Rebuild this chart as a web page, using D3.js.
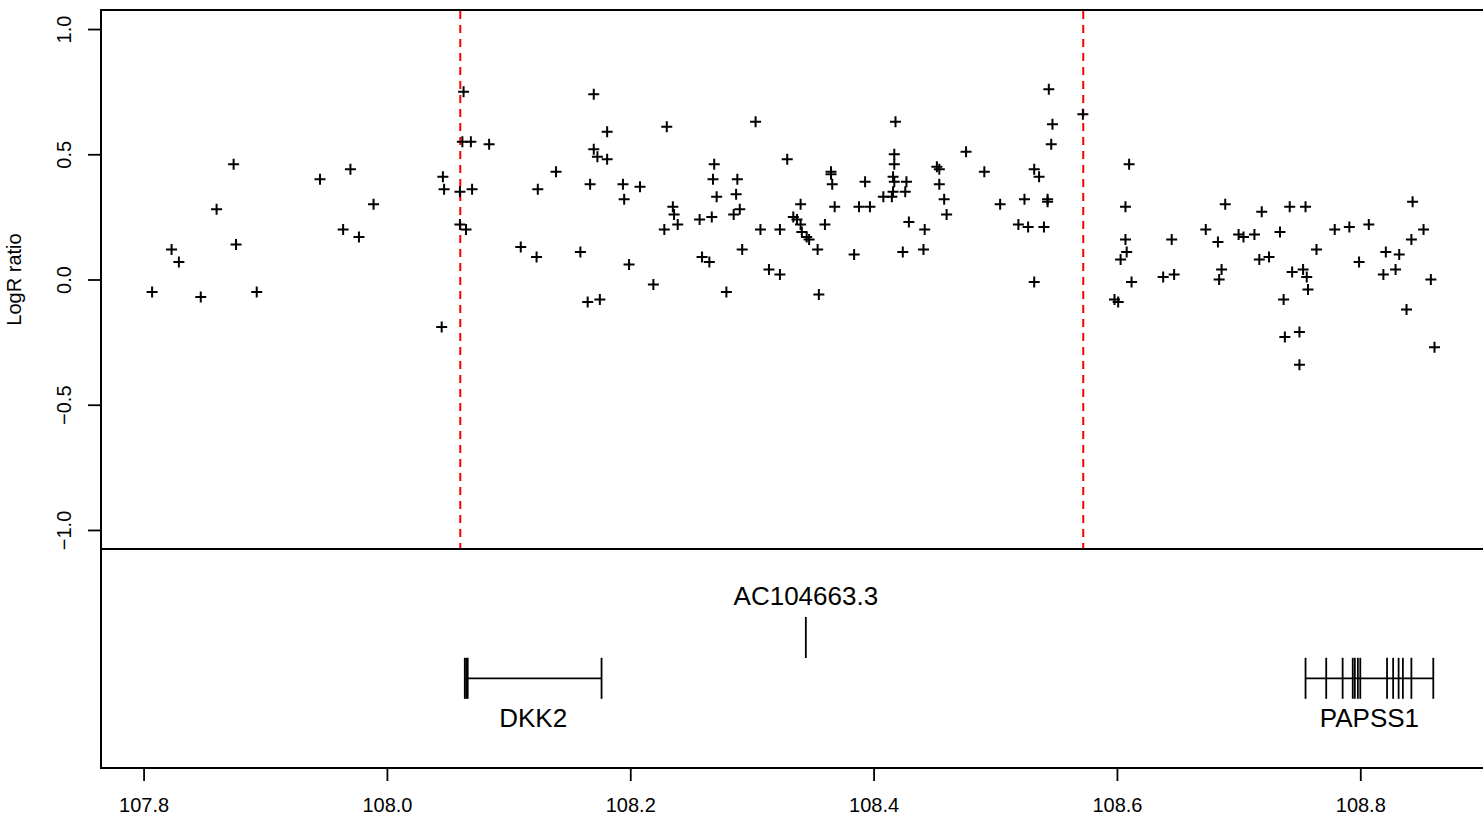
<!DOCTYPE html>
<html><head><meta charset="utf-8">
<script src="https://cdn.jsdelivr.net/npm/d3@7"></script>
<style>html,body{margin:0;padding:0;background:#fff;overflow:hidden}</style>
</head><body><svg id="c" width="1483" height="821"></svg>
<script>
// ---- data ----
const positions = [
107.807,107.823,107.829,107.847,107.860,107.874,107.876,107.893,107.945,107.964,
107.970,107.977,107.989,108.045,108.046,108.047,108.060,108.070,108.062,108.069,
108.084,108.060,108.065,108.063,
108.170,108.230,108.303,108.181,108.170,108.173,108.181,108.269,108.329,108.139,
108.124,108.167,108.194,108.208,108.268,108.288,108.195,108.271,108.287,108.235,
108.340,108.236,108.239,108.257,108.267,108.285,108.290,108.334,108.337,108.340,
108.341,108.345,108.347,108.228,108.307,108.323,108.110,108.123,108.159,108.199,
108.259,108.265,108.292,108.354,108.314,108.323,108.219,108.279,108.355,108.165,
108.175,
108.544,108.572,108.418,108.547,108.546,108.476,108.417,108.417,108.365,108.365,
108.366,108.491,108.452,108.454,108.532,108.536,108.393,108.416,108.417,108.427,
108.416,108.426,108.454,108.408,108.415,108.368,108.388,108.397,108.458,108.504,
108.524,108.543,108.543,108.460,108.360,108.429,108.442,108.519,108.527,108.540,
108.384,108.424,108.441,108.532,
108.610,108.607,108.607,108.608,108.603,108.612,108.598,108.601,108.645,108.638,
108.647,108.673,108.683,108.689,108.686,108.684,108.700,108.704,108.713,108.719,
108.734,108.717,108.725,108.742,108.755,108.764,108.744,108.753,108.756,108.757,
108.737,108.738,108.750,108.750,108.779,108.791,108.807,108.799,108.821,108.832,
108.819,108.829,108.843,108.852,108.842,108.858,108.838,108.861
];
const logR = [
-0.05,0.12,0.07,-0.07,0.28,0.46,0.14,-0.05,0.40,0.20,
0.44,0.17,0.30,-0.19,0.41,0.36,0.35,0.36,0.55,0.55,
0.54,0.22,0.20,0.75,
0.74,0.61,0.63,0.59,0.52,0.49,0.48,0.46,0.48,0.43,
0.36,0.38,0.38,0.37,0.40,0.40,0.32,0.33,0.34,0.29,
0.30,0.26,0.22,0.24,0.25,0.26,0.28,0.25,0.24,0.22,
0.19,0.17,0.16,0.20,0.20,0.20,0.13,0.09,0.11,0.06,
0.09,0.07,0.12,0.12,0.04,0.02,-0.02,-0.05,-0.06,-0.09,
-0.08,
0.76,0.66,0.63,0.62,0.54,0.51,0.50,0.46,0.43,0.42,
0.38,0.43,0.45,0.44,0.44,0.41,0.39,0.41,0.39,0.39,
0.35,0.35,0.38,0.33,0.33,0.29,0.29,0.29,0.32,0.30,
0.32,0.32,0.31,0.26,0.22,0.23,0.20,0.22,0.21,0.21,
0.10,0.11,0.12,-0.01,
0.46,0.29,0.16,0.11,0.08,-0.01,-0.08,-0.09,0.16,0.01,
0.02,0.20,0.15,0.30,0.04,0.00,0.18,0.17,0.18,0.27,
0.19,0.08,0.09,0.29,0.29,0.12,0.03,0.04,0.01,-0.04,
-0.08,-0.23,-0.21,-0.34,0.20,0.21,0.22,0.07,0.11,0.10,
0.02,0.04,0.31,0.20,0.16,0.00,-0.12,-0.27
];
const breakpoints = [108.0603, 108.5723];
const xTicks = [107.8, 108.0, 108.2, 108.4, 108.6, 108.8];
const yTicks = [-1.0, -0.5, 0.0, 0.5, 1.0];
const xLim = [107.765, 108.915];
const yLim = [-1.076, 1.076];
const yLabel = "LogR ratio";
const geneNames = ["DKK2", "AC104663.3", "PAPSS1"];
const geneStarts = [108.064, 108.3443, 108.755];
const geneEnds = [108.1764, 108.3443, 108.860];
const geneRows = [2, 1, 2];
const geneExons = [
  [108.064, 108.0652, 108.0664, 108.1764],
  [108.3443],
  [108.755, 108.772, 108.7855, 108.7938, 108.7955, 108.798, 108.800, 108.822, 108.827, 108.8315, 108.835, 108.842, 108.860]
];

// ---- layout ----
const FONT = "'Liberation Sans', Arial, Helvetica, sans-serif";
const pLeft = 101, pTop = 10, pMid = 549, pBottom = 768;
const pxPerUnit = 1216.7;
const svg = d3.select("#c");
const x = d3.scaleLinear().domain(xLim).range([pLeft, pLeft + (xLim[1] - xLim[0]) * pxPerUnit]);
const y = d3.scaleLinear().domain(yLim).range([pMid, pTop]);
const pRight = x(xLim[1]);

// frame
svg.append("rect").attr("x", pLeft).attr("y", pTop).attr("width", pRight - pLeft).attr("height", pBottom - pTop)
  .attr("fill", "none").attr("stroke", "#000").attr("stroke-width", 2);
svg.append("line").attr("x1", pLeft).attr("x2", pRight).attr("y1", pMid).attr("y2", pMid)
  .attr("stroke", "#000").attr("stroke-width", 2);

// breakpoints (red dashed)
svg.append("g").selectAll("line").data(breakpoints).join("line")
  .attr("x1", d => x(d)).attr("x2", d => x(d)).attr("y1", pTop + 1).attr("y2", pMid - 1)
  .attr("stroke", "#FF0000").attr("stroke-width", 2).attr("stroke-dasharray", "8,6");

// points (+)
const pts = positions.map((p, i) => [p, logR[i]]);
const h = 5.5;
svg.append("g").selectAll("path").data(pts).join("path")
  .attr("d", d => { const cx = x(d[0]), cy = y(d[1]);
    return `M${cx - h},${cy}H${cx + h}M${cx},${cy - h}V${cy + h}`; })
  .attr("stroke", "#000").attr("stroke-width", 2).attr("fill", "none");

// x axis
const gx = svg.append("g").attr("transform", `translate(0,${pBottom})`)
  .call(d3.axisBottom(x).tickValues(xTicks).tickSize(13).tickPadding(17).tickFormat(d3.format(".1f")));
gx.select(".domain").remove();
gx.selectAll(".tick line").attr("stroke", "#000").attr("stroke-width", 1.8);
gx.selectAll(".tick text").attr("font-family", FONT).attr("font-size", 20).attr("fill", "#000");

// y axis
const gy = svg.append("g").attr("transform", `translate(${pLeft},0)`)
  .call(d3.axisLeft(y).tickValues(yTicks).tickSize(13).tickFormat(d => d3.format(".1f")(d).replace("-", "\u2212")));
gy.select(".domain").remove();
gy.selectAll(".tick line").attr("stroke", "#000").attr("stroke-width", 1.8);
gy.selectAll(".tick text").attr("font-family", FONT).attr("font-size", 20).attr("fill", "#000")
  .attr("transform", "rotate(-90)").attr("x", 0).attr("y", -30.5).attr("dy", 0)
  .attr("text-anchor", "middle");

svg.append("text").attr("transform", `translate(21,${(pTop + pMid) / 2}) rotate(-90)`)
  .attr("text-anchor", "middle").attr("font-family", FONT).attr("font-size", 20).text(yLabel);

// genes
const rowY = r => r === 1 ? 637.5 : 678.3;
const halfH = 20.5;
const genes = geneNames.map((n, i) => ({ name: n, start: geneStarts[i], end: geneEnds[i], row: geneRows[i], exons: geneExons[i] }));
const gg = svg.append("g");
genes.forEach(g => {
  const cy = rowY(g.row);
  if (g.end > g.start) {
    gg.append("line").attr("x1", x(g.start)).attr("x2", x(g.end)).attr("y1", cy).attr("y2", cy)
      .attr("stroke", "#000").attr("stroke-width", 1.8);
  }
  gg.append("g").selectAll("line").data(g.exons).join("line")
    .attr("x1", d => x(d)).attr("x2", d => x(d)).attr("y1", cy - halfH).attr("y2", cy + halfH)
    .attr("stroke", "#000").attr("stroke-width", 1.8);
  const lx = x((g.start + g.end) / 2);
  gg.append("text").attr("x", lx).attr("y", g.row === 1 ? cy - halfH - 12 : cy + halfH + 28.5)
    .attr("text-anchor", "middle").attr("font-family", FONT).attr("font-size", 26).attr("fill", "#000")
    .text(g.name);
});
</script>
</body></html>
